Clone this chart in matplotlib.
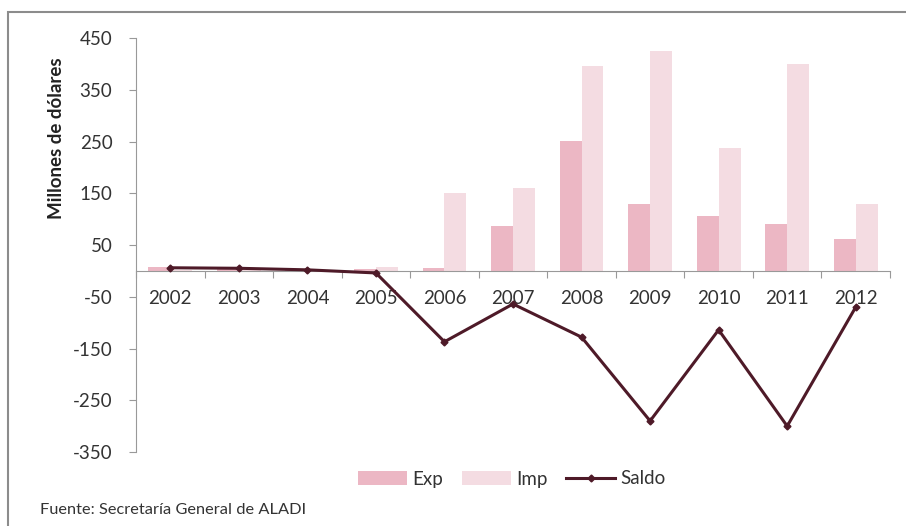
import numpy as np
import matplotlib.pyplot as plt
from matplotlib.patches import Rectangle

years = ["2002", "2003", "2004", "2005", "2006", "2007", "2008", "2009", "2010", "2011", "2012"]
exp_vals = [8, 6, 4, 3, 5, 87, 251, 129, 106, 91, 62]
imp_vals = [2, 1, 2, 7, 150, 160, 396, 425, 238, 400, 129]
saldo = [6, 5, 2, -4, -137, -64, -128, -290, -114, -300, -70]

plt.rcParams['font.family'] = ['Lato', 'DejaVu Sans']
plt.rcParams['axes.unicode_minus'] = False

fig = plt.figure(figsize=(9.06, 5.26), dpi=100)
ax = fig.add_axes([136 / 906, 1 - 452 / 526, 754 / 906, 414 / 526])

# outer chart border
fig.patches.append(Rectangle((8 / 906, -0.05), 1.1, 1 - 12 / 526 + 0.05,
                             transform=fig.transFigure, fill=False,
                             edgecolor='#8c8c8c', linewidth=1.5))

x = np.arange(len(years))
w = 0.32
b1 = ax.bar(x - w / 2, exp_vals, width=w, color='#ecb7c4', label='Exp', zorder=2)
b2 = ax.bar(x + w / 2, imp_vals, width=w, color='#f4dce2', label='Imp', zorder=2)
ln, = ax.plot(x, saldo, color='#4e1a28', linewidth=2.2, marker='D', markersize=3.5,
              label='Saldo', zorder=3)

ax.set_xlim(-0.5, len(years) - 0.5)
ax.set_ylim(-350, 450)
ax.set_yticks(np.arange(-350, 451, 100))
ax.tick_params(axis='y', labelsize=13.5, colors='#333333', length=5,
               color='#999999', pad=12)

# category axis at zero
ax.spines['bottom'].set_position(('data', 0))
ax.spines['bottom'].set_color('#999999')
ax.spines['left'].set_color('#999999')
ax.spines['top'].set_visible(False)
ax.spines['right'].set_visible(False)
ax.set_xticks(np.arange(len(years) + 1) - 0.5)
ax.set_xticklabels([])
ax.tick_params(axis='x', length=5, color='#999999')
for i, yr in enumerate(years):
    ax.text(i, -54, yr, ha='center', va='center', fontsize=13.5,
            color='#333333', zorder=1)

ax.set_ylabel('Millones de dólares', fontsize=13.5, fontweight='bold',
              color='#222222')
ax.yaxis.set_label_coords(-0.094, 0.758)

leg = fig.legend([b1, b2, ln], ['Exp', 'Imp', 'Saldo'], loc='center',
                 bbox_to_anchor=(512 / 906, 1 - 479 / 526),
                 ncol=3, frameon=False, fontsize=13.5, handlelength=2.6,
                 columnspacing=1.0, handletextpad=0.3)
for t in leg.get_texts():
    t.set_color('#333333')

fig.text(40 / 906, 1 - 510 / 526, 'Fuente: Secretaría General de ALADI',
         fontsize=11.8, color='#333333', va='center')

plt.savefig('out.png', dpi=100)
